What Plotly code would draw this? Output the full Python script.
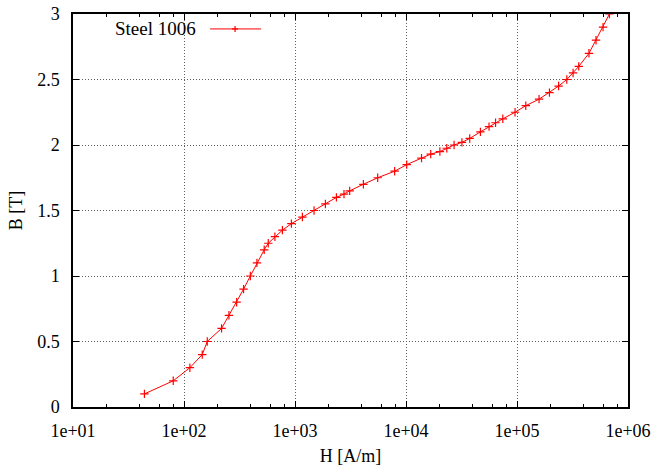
import plotly.graph_objects as go

# Data (Steel 1006 B-H curve)
H_values = [44, 80, 113, 146, 162, 218, 254, 298, 344, 396, 454, 528, 574, 659, 770,
            928, 1166, 1484, 1878, 2360, 2763, 3110, 4130, 5560, 7900, 10150, 13800,
            16700, 20200, 23300, 27100, 31900, 37500, 46800, 56000, 64100, 74500,
            96000, 120000, 158000, 196000, 237000, 281000, 320000, 360000, 445000,
            515000, 596000, 680000]
B_values = [0.1, 0.2, 0.3, 0.4, 0.5, 0.6, 0.7, 0.8, 0.9, 1.0, 1.1, 1.2, 1.25, 1.3, 1.35,
            1.4, 1.45, 1.5, 1.55, 1.6, 1.625, 1.65, 1.7, 1.75, 1.8, 1.85, 1.9,
            1.93, 1.95, 1.975, 2.0, 2.02, 2.05, 2.1, 2.14, 2.17, 2.2,
            2.25, 2.3, 2.35, 2.4, 2.45, 2.5, 2.55, 2.6, 2.7,
            2.8, 2.9, 3.0]

x_tickvals = [1e1, 1e2, 1e3, 1e4, 1e5, 1e6]
x_ticktext = ["1e+01", "1e+02", "1e+03", "1e+04", "1e+05", "1e+06"]
x_minorvals = [m * 10 ** e for e in range(1, 6) for m in (2, 4, 6, 8)]
y_tickvals = [0, 0.5, 1, 1.5, 2, 2.5, 3]
y_ticktext = ["0", "0.5", "1", "1.5", "2", "2.5", "3"]

series_name = "Steel 1006"
red = "#ff0000"
font_family = "Liberation Serif"
fsize = 18

fig = go.Figure()
fig.add_trace(go.Scatter(
    x=H_values, y=B_values, mode="lines+markers", name=series_name,
    line=dict(color=red, width=1),
    marker=dict(symbol="cross-thin", size=6, line=dict(color=red, width=1.2)),
    showlegend=False, cliponaxis=True,
))

axis_common = dict(
    showline=True, linecolor="black", linewidth=1.5, mirror="allticks",
    ticks="inside", ticklen=6, tickwidth=1, tickcolor="black",
    showgrid=True, gridcolor="#606060", gridwidth=1, griddash="1px,2px",
    zeroline=False,
    tickfont=dict(family=font_family, size=fsize, color="black"),
    automargin=False,
)

fig.update_xaxes(
    type="log", range=[1, 6], tickmode="array", tickvals=x_tickvals, ticktext=x_ticktext,
    minor=dict(tickmode="array", tickvals=x_minorvals, ticks="inside", ticklen=3,
               tickcolor="black", showgrid=False),
    title=dict(text="H [A/m]", font=dict(family=font_family, size=fsize, color="black"), standoff=9),
    ticklabelstandoff=7,
    **axis_common,
)
fig.update_yaxes(
    range=[0, 3], tickmode="array", tickvals=y_tickvals, ticktext=y_ticktext,
    title=dict(text="B [T]", font=dict(family=font_family, size=fsize, color="black"), standoff=10),
    ticklabelstandoff=8,
    **axis_common,
)

# gnuplot-style key: text, then line sample with marker on its right
fig.add_annotation(xref="paper", yref="paper", x=0.225, y=0.962, text=series_name,
                   showarrow=False, xanchor="right", yanchor="middle",
                   font=dict(family=font_family, size=19, color="black"))
fig.add_shape(type="line", xref="paper", yref="paper", x0=0.247, x1=0.339, y0=0.962, y1=0.962,
              line=dict(color=red, width=1))
fig.add_shape(type="line", xref="paper", yref="paper", xsizemode="pixel", ysizemode="pixel",
              xanchor=0.292, yanchor=0.962, x0=-3, x1=3, y0=0, y1=0,
              line=dict(color=red, width=1.2))
fig.add_shape(type="line", xref="paper", yref="paper", xsizemode="pixel", ysizemode="pixel",
              xanchor=0.292, yanchor=0.962, x0=0, x1=0, y0=-3, y1=3,
              line=dict(color=red, width=1.2))

fig.update_layout(
    width=665, height=468,
    margin=dict(l=73, r=37, t=14, b=61, autoexpand=False),
    paper_bgcolor="white", plot_bgcolor="white",
    font=dict(family=font_family, size=fsize, color="black"),
    showlegend=False,
)

fig.write_html("out.html")
